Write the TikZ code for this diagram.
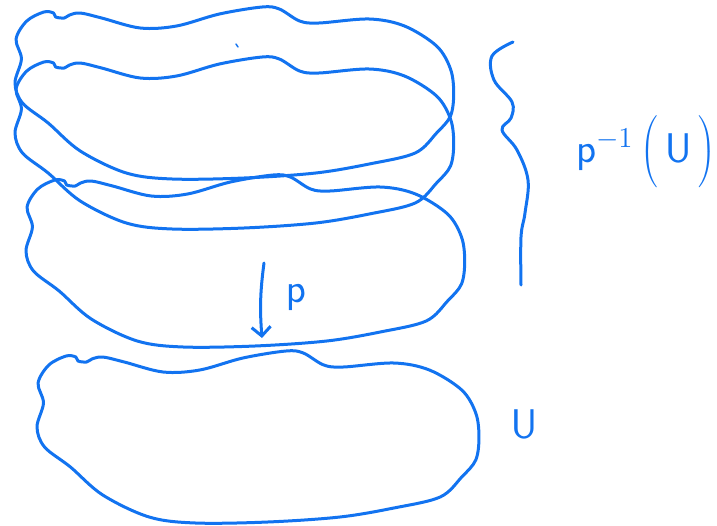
\documentclass[tikz,border=0pt]{standalone}
\usetikzlibrary{arrows.meta}
\definecolor{penblue}{RGB}{18,115,240}
\tikzset{
  pen/.style={draw=penblue, line width=1.5pt, line cap=round, line join=round},
  lbl/.style={text=penblue, font=\fontsize{21}{25}\selectfont, inner sep=0pt}
}
% one hand-drawn open set, top-left corner at the origin
\newcommand{\blobpath}{plot[smooth cycle, tension=0.55] coordinates {
  (61,6) (81,11) (117,21) (151,19) (191,7) (231,0) (247,2) (266,14) (284,16)
  (331,12) (364,19) (394,39) (407,62) (410,86) (407,109) (394,126) (374,146)
  (331,157) (281,166) (214,171) (147,172) (104,166) (61,144) (31,116) (7,96)
  (0,76) (6,52) (1,32) (11,14) (27,5) (36,6) (38,10) (46,11) (51,8)}}

\begin{document}
\begin{tikzpicture}[x=0.5pt, y=-0.5pt]
  \useasboundingbox (0,0) rectangle (717,525);
  % the sheets over U
  \draw[pen, shift={(15,7)}, xscale=1.07] \blobpath;
  \draw[pen, shift={(15,57)}, xscale=1.07] \blobpath;
  \draw[pen, shift={(26,175)}, xscale=1.07] \blobpath;
  \draw[pen, line width=0.7pt] (236,44) -- (238,47);
  % U itself
  \draw[pen, shift={(37,351)}, xscale=1.078] \blobpath;
  \node[lbl] (U) at (524,424) {$\mathsf{U}$};
  % projection
  \coordinate (ptop) at (264,263);
  \coordinate (pbot) at (262,338);
  \draw[pen, -{Straight Barb[length=4.5pt, width=9.5pt]}] (ptop) to[bend right=6] (pbot);
  \node[lbl] (p) at (296,298) {$\mathsf{p}$};
  % brace and preimage
  \draw[pen] plot[smooth, tension=0.6] coordinates {(513,42) (492,56) (494,80) (512,102)
    (511,118) (502,130) (517,150) (528,180) (525,213) (521,237) (521,285)};
  \node[lbl, font=\fontsize{22}{26}\selectfont] (pre) at (646,152)
    {$\mathsf{p}^{-1}\left(\vrule height 19pt depth 12pt width 0pt\,\mathsf{U}\,\right)$};
\end{tikzpicture}
\end{document}
